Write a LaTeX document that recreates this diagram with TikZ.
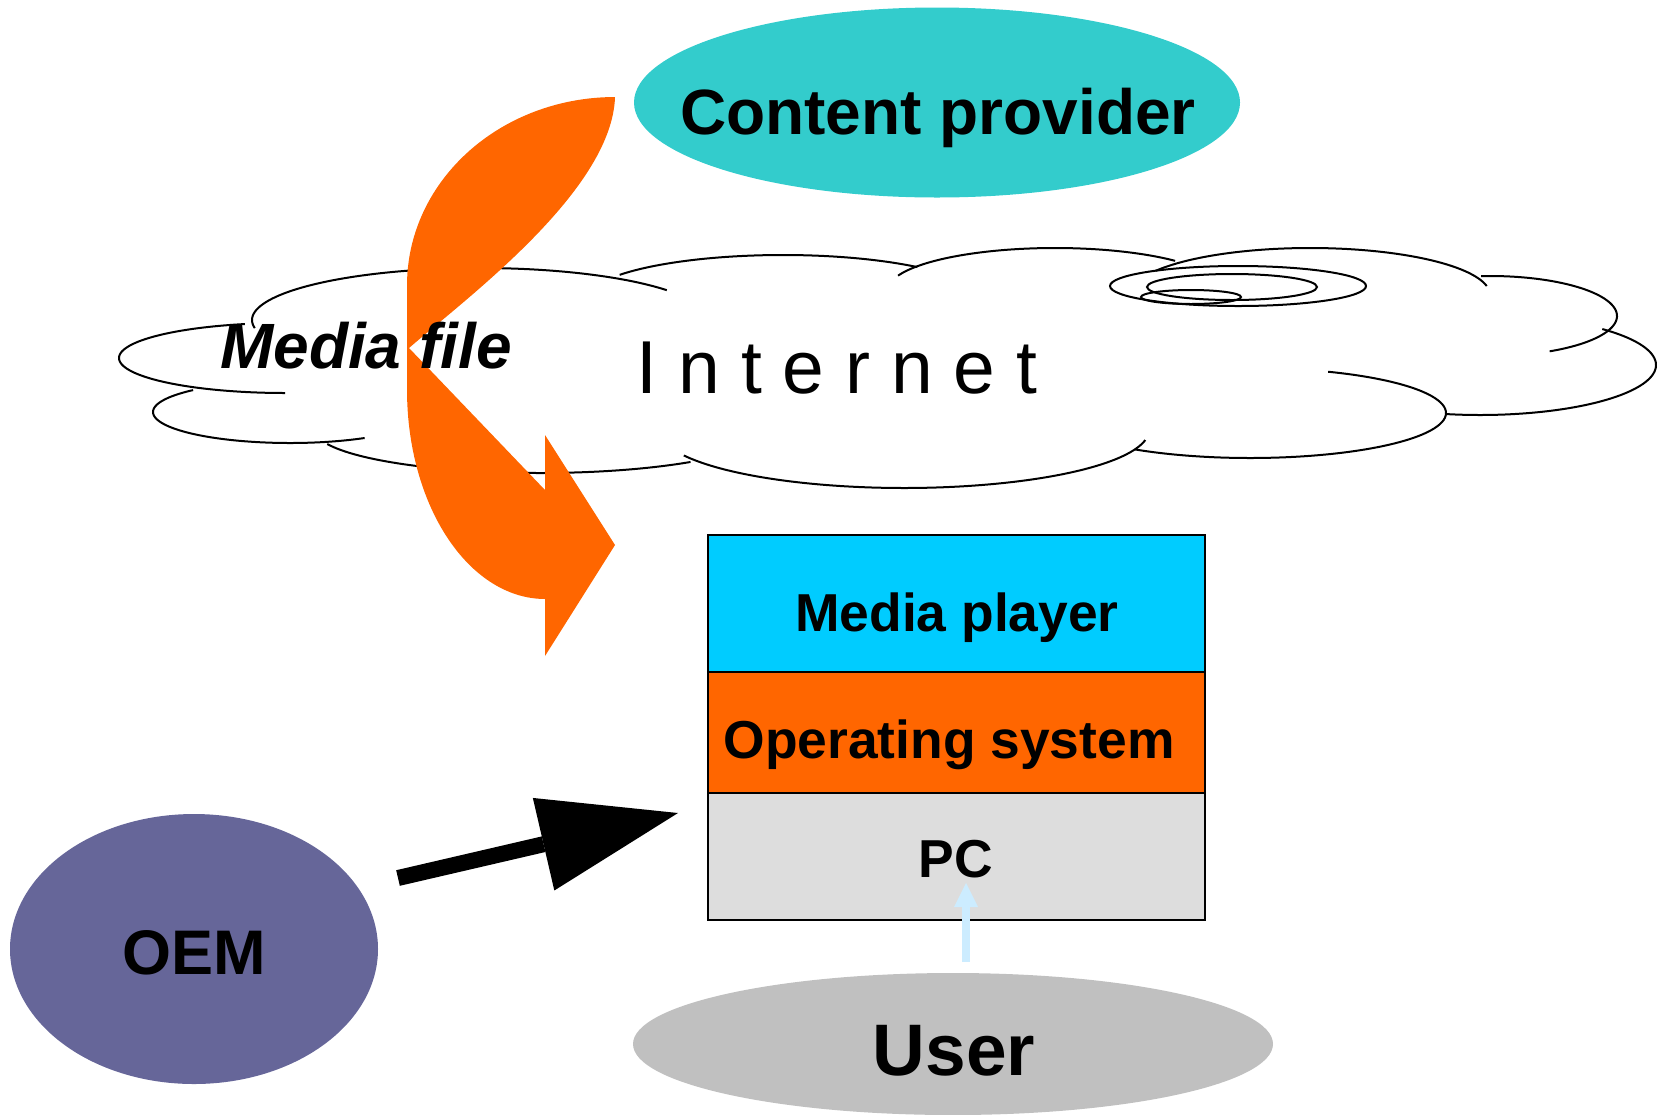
\documentclass[tikz,border=0pt]{standalone}
\usepackage{fontspec}
\setmainfont{Liberation Sans}
\usetikzlibrary{shapes.geometric,arrows.meta}
\definecolor{cpteal}{HTML}{33CCCC}
\definecolor{arroworange}{HTML}{FF6600}
\definecolor{oemblue}{HTML}{666699}
\definecolor{usergray}{HTML}{C0C0C0}
\definecolor{mpblue}{HTML}{00CCFF}
\definecolor{pcgray}{HTML}{DDDDDD}
\definecolor{lightarrow}{HTML}{CCECFF}
\newcommand\cloudlobe[6]{\draw[cloudline] plot[domain=#5:#6, samples=70, smooth] ({#1+#3*cos(\x)},{#2-#4*sin(\x)});}
\begin{document}
\begin{tikzpicture}[x=0.5pt, y=-0.5pt,
  cloudline/.style={draw=black, line width=1pt},
  blob/.style={ellipse, inner sep=0pt, draw=none},
  layer/.style={rectangle, draw=black, line width=1pt, inner sep=0pt, minimum width=248.5pt},
  lbl/.style={anchor=base, inner sep=0pt, text=black},
]
\useasboundingbox (0,0) rectangle (1657,1114);
\clip (0,0) rectangle (1657,1114);

% cloud lobes
\cloudlobe{285}{358}{166}{35}{104}{270}
\cloudlobe{480}{320}{228}{52}{35}{189}
\cloudlobe{783}{300}{197}{45}{47}{146}
\cloudlobe{1055}{290}{167}{42}{44}{160}
\cloudlobe{1310}{295}{180}{47}{11}{149}
\cloudlobe{1490}{316}{127}{40}{-62}{94}
\cloudlobe{1480}{365}{176}{50}{-101}{46}
\cloudlobe{1250}{413}{196}{45}{-126}{66.5}
\cloudlobe{904}{430}{245}{58}{-154}{-10}
\cloudlobe{540}{430}{225}{43}{199}{312}
\cloudlobe{290}{412}{137}{31}{135}{303}
% spiral
\draw[cloudline] (1238,286) ellipse [x radius=128, y radius=20];
\draw[cloudline] (1232,287) ellipse [x radius=85, y radius=13];
\draw[cloudline] (1191,297) ellipse [x radius=50, y radius=7];

% curved orange arrow
\fill[arroworange] (615,97)
  -- plot[domain=90:180, samples=50] ({615+208*cos(\x)},{285-188*sin(\x)})
  -- plot[domain=180:270, samples=50] ({545+138*cos(\x)},{390-209*sin(\x)})
  -- (545,656) -- (615,545) -- (545,435) -- (545,490) -- (409,348)
  .. controls (468,297) and (612,190) .. (615,97) -- cycle;

\node[lbl, font=\fontsize{32pt}{38pt}\selectfont\bfseries\itshape] (mediafile) at (366,368) {Media file};
\node[lbl, font=\fontsize{37.5pt}{44pt}\selectfont] (internet) at (837,393) {I n t e r n e t};

% ellipses
\node[blob, fill=cpteal, minimum width=303pt, minimum height=95pt] (cp) at (937,102.5) {};
\node[lbl, font=\fontsize{32pt}{38pt}\selectfont\bfseries] (cptext) at (938,134) {Content provider};
\node[blob, fill=oemblue, minimum width=184pt, minimum height=135pt] (oem) at (194,949) {};
\node[lbl, font=\fontsize{31.5pt}{38pt}\selectfont\bfseries] (oemtext) at (194,974) {OEM};
\node[blob, fill=usergray, minimum width=320pt, minimum height=71pt] (user) at (953,1044) {};
\node[lbl, font=\fontsize{36.5pt}{44pt}\selectfont\bfseries] (usertext) at (954,1075) {User};

% layers
\node[layer, fill=mpblue, minimum height=68.5pt] (mp) at (956.5,603.5) {};
\node[layer, fill=arroworange, minimum height=60.5pt] (os) at (956.5,732.5) {};
\node[layer, fill=pcgray, minimum height=63.5pt] (pc) at (956.5,856.5) {};

% arrows
\coordinate (oemtail) at (398,878);
\coordinate (oemhead) at (678,813);
\draw[black, line width=8pt, -{Triangle[length=69pt, width=47.5pt, line width=0pt]}] (oemtail) -- (oemhead);
\coordinate (utail) at (966,962);
\coordinate (uhead) at (966,883);
\draw[lightarrow, line width=4pt, -{Triangle[length=12pt, width=12pt, line width=0pt]}] (utail) -- (uhead);

\node[lbl, font=\fontsize{26.7pt}{32pt}\selectfont\bfseries] (mptext) at (957,631) {Media player};
\node[lbl, font=\fontsize{26.7pt}{32pt}\selectfont\bfseries] (ostext) at (949,758) {Operating system};
\node[lbl, font=\fontsize{26.7pt}{32pt}\selectfont\bfseries] (pctext) at (956,877) {PC};
\end{tikzpicture}
\end{document}
